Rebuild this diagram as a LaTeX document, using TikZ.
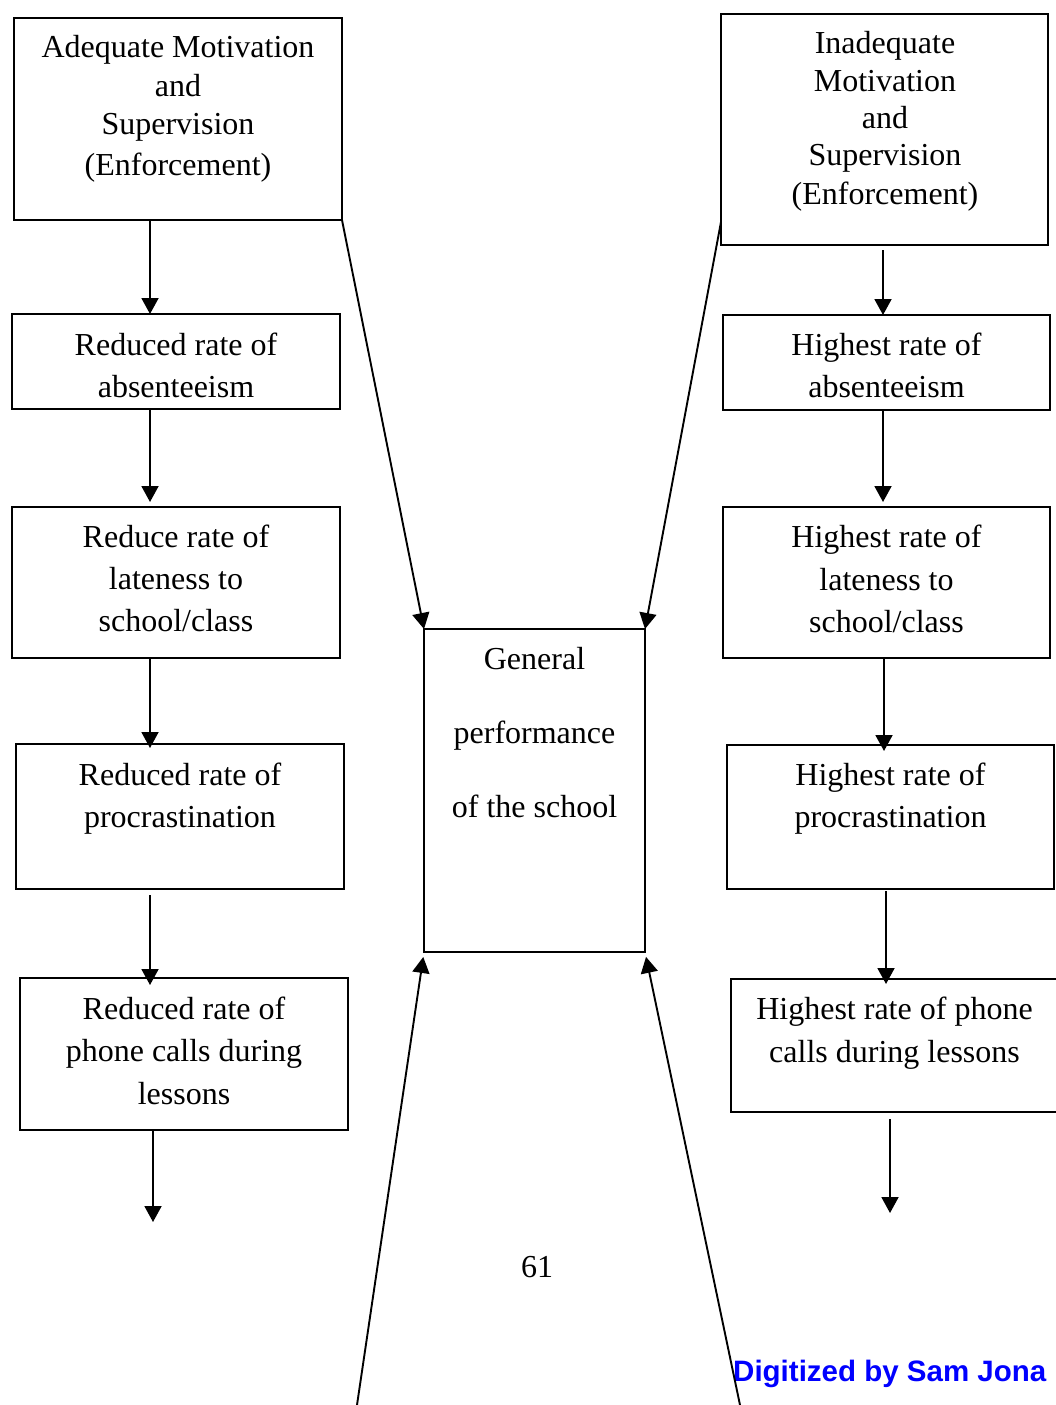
\documentclass[tikz,border=0pt]{standalone}
\usepackage{fontspec}
\setmainfont{Liberation Serif}
\newfontfamily\digfont{Liberation Sans}
\usetikzlibrary{arrows.meta,calc}
\newcommand\mkbox[5]{\node[box, minimum width={#4-#2}, minimum height={#5-#3}] (#1) at ({(#2+#4)/2},{(#3+#5)/2}) {};}
\newcommand\mklines[3]{\foreach \yy/\tt [count=\i] in {#3} {\node[lbl] (#1\i) at (#2,\yy) {\tt};}}
\begin{document}
\begin{tikzpicture}[x=1pt,y=-1pt,
  box/.style={draw, line width=2pt, inner sep=0pt, outer sep=0pt},
  lbl/.style={anchor=base, inner sep=0pt, font=\fontsize{32}{37}\selectfont},
  arr/.style={line width=1.9pt, -{Triangle[width=17pt,length=16pt]}},
]
\useasboundingbox (0,0) rectangle (1055,1405);
% boxes
\mkbox{A1}{14}{18}{342}{220}
\mkbox{A2}{12}{314}{340}{409}
\mkbox{A3}{12}{507}{340}{658}
\mkbox{A4}{16}{744}{344}{889}
\mkbox{A5}{20}{978}{348}{1130}
\mkbox{B1}{721}{14}{1048}{245}
\mkbox{B2}{723}{315}{1050}{410}
\mkbox{B3}{723}{507}{1050}{658}
\mkbox{B4}{727}{745}{1054}{889}
\mkbox{B5}{731}{979}{1058}{1112}
\mkbox{C}{424}{629}{645}{952}
% texts
\mklines{a1t}{178}{58/Adequate Motivation, 96/and, 134/Supervision, 175/{(Enforcement)}}
\mklines{a2t}{176}{355/Reduced rate of, 397/absenteeism}
\mklines{a3t}{176}{547/Reduce rate of, 589/lateness to, 631/{school/class}}
\mklines{a4t}{180}{785/Reduced rate of, 827/procrastination}
\mklines{a5t}{184}{1019/Reduced rate of, 1061/phone calls during, 1104/lessons}
\mklines{b1t}{885}{53/Inadequate, 91/Motivation, 128/and, 165/Supervision, 204/{(Enforcement)}}
\mklines{b2t}{886.5}{355/Highest rate of, 397/absenteeism}
\mklines{b3t}{886.5}{547/Highest rate of, 590/lateness to, 632/{school/class}}
\mklines{b4t}{890.5}{785/Highest rate of, 827/procrastination}
\mklines{b5t}{894.5}{1019/Highest rate of phone, 1062/calls during lessons}
\mklines{ct}{534.5}{669/General, 743/performance, 817/of the school}
\node[lbl] (page) at (537,1277) {61};
\node[anchor=base west, inner sep=0pt, text=blue, font=\digfont\bfseries\fontsize{29.5}{34}\selectfont] (dig) at (733,1381) {Digitized by Sam Jona};
% column x positions
\coordinate (la) at (150,0);
\coordinate (lb) at (153,0);
\coordinate (ra) at (883,0);
\coordinate (rb) at (884,0);
\coordinate (rc) at (886,0);
\coordinate (rd) at (890,0);
\coordinate (aend) at (153,1222);
\coordinate (bend) at (890,1213);
\coordinate (bl) at (357,1405);
\coordinate (br) at (740,1405);
% vertical arrows
\draw[arr] (A1.south -| la) -- (A2.north -| la);
\draw[arr, shorten >=5pt] (A2.south -| la) -- (A3.north -| la);
\draw[arr, shorten >=-4pt] (A3.south -| la) -- (A4.north -| la);
\draw[arr, shorten <=6pt, shorten >=-7pt] (A4.south -| la) -- (A5.north -| la);
\draw[arr] (A5.south -| lb) -- (aend);
\draw[arr, shorten <=5pt] (B1.south -| ra) -- (B2.north -| ra);
\draw[arr, shorten >=5pt] (B2.south -| ra) -- (B3.north -| ra);
\draw[arr, shorten >=-6pt] (B3.south -| rb) -- (B4.north -| rb);
\draw[arr, shorten <=2pt, shorten >=-5pt] (B4.south -| rc) -- (B5.north -| rc);
\draw[arr, shorten <=7pt] (B5.south -| rd) -- (bend);
% diagonal arrows into the centre box
\draw[arr] (A1.south east) -- (C.north west);
\draw[arr] ($(B1.south west)!0.1!(B1.north west)$) -- (C.north east);
\draw[arr, shorten >=5pt] (bl) -- (C.south west);
\draw[arr, shorten >=5pt] (br) -- (C.south east);
\end{tikzpicture}
\end{document}
